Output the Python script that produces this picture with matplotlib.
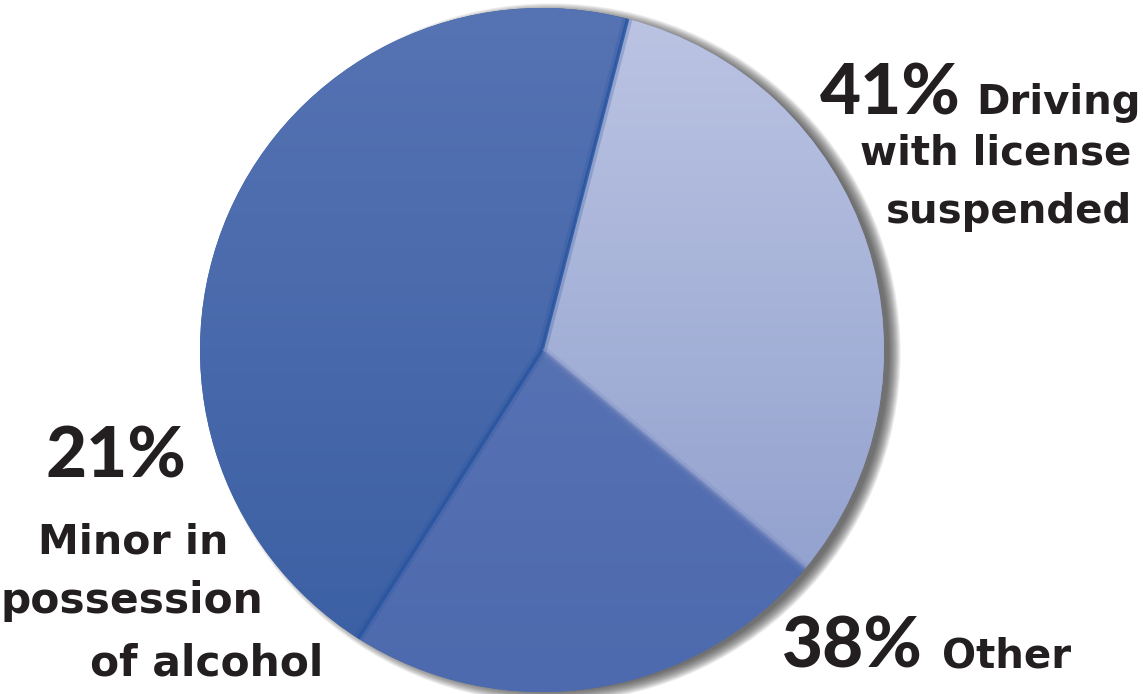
import numpy as np
import matplotlib.pyplot as plt
from matplotlib.colors import LinearSegmentedColormap

W, H = 1143, 694

# slice shares as drawn in the picture (the printed percentages differ)
shares = [32, 23, 45]
slice_names = ["Driving with license suspended", "Other", "Minor in possession of alcohol"]
label_pcts = ["41%", "38%", "21%"]
start_angle = 75.5

# style
top_colors = ["#bcc4e3", "#617ab8", "#5673b3"]
bottom_colors = ["#8a9bca", "#4d6aae", "#3a5fa3"]
cx, cy, r = 542, 344, 342

fig = plt.figure(figsize=(W / 100, H / 100), dpi=100)
ax = fig.add_axes([0, 0, 1, 1])

# soft shadow, offset to the right
for k in range(13, -1, -1):
    sh = plt.Circle((cx + 9, cy - 3), r - 4 + k * 0.9, color="#303030",
                    alpha=0.075, lw=0, zorder=0)
    ax.add_patch(sh)

wedges, _ = ax.pie(shares, startangle=start_angle, counterclock=False,
                   center=(cx, cy), radius=r, wedgeprops=dict(linewidth=0))

# vertical gradient inside each wedge
yy = np.linspace(0, 1, 256).reshape(-1, 1)
for w, c1, c2 in zip(wedges, top_colors, bottom_colors):
    w.set_zorder(1)
    w.set_facecolor(c2)
    cmap = LinearSegmentedColormap.from_list("g", [c2, c1])
    im = ax.imshow(yy, cmap=cmap, extent=(cx - r, cx + r, cy - r, cy + r),
                   origin="lower", aspect="auto", zorder=2, interpolation="bilinear")
    im.set_clip_path(w)

# darker edges along the slice borders
bounds = start_angle - 360 * np.cumsum(shares) / sum(shares)
edge_angles = [start_angle, bounds[0], bounds[1]]
edge_styles = [("#2a55a0", 0.85), ("#6f82bb", 0.7), ("#2a55a0", 0.85)]
for ang, (col, a) in zip(edge_angles, edge_styles):
    t = np.deg2rad(ang)
    xs = [cx, cx + r * np.cos(t)]
    ys = [cy, cy + r * np.sin(t)]
    ax.plot(xs, ys, color=col, lw=7, alpha=a * 0.3, zorder=3, solid_capstyle="butt")
    ax.plot(xs, ys, color=col, lw=2.5, alpha=a, zorder=3, solid_capstyle="butt")

ax.set_xlim(0, W)
ax.set_ylim(0, H)
ax.set_aspect("auto")
ax.set_axis_off()

big = dict(family="Lato", fontweight="black", fontsize=51, color="#231f20", va="baseline")
small = dict(family="DejaVu Sans", fontweight="bold", fontsize=29, color="#231f20", va="baseline")

# top right label
ax.text(820, H - 114, label_pcts[0], **big)
ax.text(976, H - 114, "Driving", **small)
ax.text(860, H - 164, "with license", **small)
ax.text(886, H - 223, "suspended", **small)

# bottom right label
ax.text(782, H - 668, label_pcts[1], **big)
ax.text(942, H - 668, slice_names[1], **small)

# left label
ax.text(45, H - 478, label_pcts[2], **big)
ax.text(38, H - 553, "Minor in", fontsize=29.5, **{k: v for k, v in small.items() if k != "fontsize"})
ax.text(0, H - 613, "possession", fontsize=30.5, **{k: v for k, v in small.items() if k != "fontsize"})
ax.text(90, H - 676, "of alcohol", fontsize=30.5, **{k: v for k, v in small.items() if k != "fontsize"})

fig.savefig("out.png", dpi=100)
